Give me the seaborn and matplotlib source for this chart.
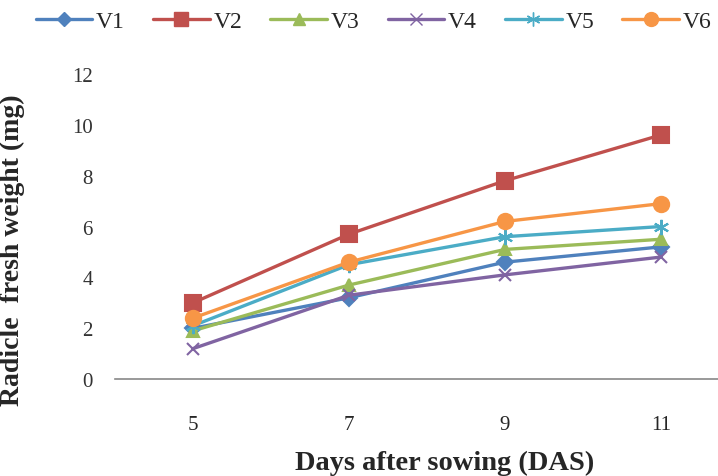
import matplotlib
matplotlib.use("Agg")
import matplotlib.pyplot as plt
import seaborn as sns
import pandas as pd
from matplotlib.lines import Line2D

days = ["5", "7", "9", "11"]
series_names = ["V1", "V2", "V3", "V4", "V5", "V6"]
V1 = [2.0, 3.2, 4.6, 5.2]
V2 = [3.0, 5.7, 7.8, 9.6]
V3 = [1.9, 3.7, 5.1, 5.5]
V4 = [1.2, 3.3, 4.1, 4.8]
V5 = [2.1, 4.5, 5.6, 6.0]
V6 = [2.4, 4.6, 6.2, 6.9]
y_ticks = [0, 2, 4, 6, 8, 10, 12]

colors = ["#4F81BD", "#C0504D", "#9BBB59", "#8064A2", "#4BACC6", "#F79646"]
markers = ["D", "s", "^", "x", (6, 2, 0), "o"]
msizes = [8, 11, 9, 9, 11, 11]

values = [V1, V2, V3, V4, V5, V6]

sns.set_style("white")
plt.rcParams["font.family"] = ["Liberation Serif", "DejaVu Serif"]

fig = plt.figure(figsize=(7.18, 4.77), dpi=100)
ax = fig.add_axes([0.160, 0.203, 0.84, 0.640])

for name, vals, c, m, ms in zip(series_names, values, colors, markers, msizes):
    sub = pd.DataFrame({"pos": list(range(len(days))), "value": vals})
    sns.lineplot(data=sub, x="pos", y="value", color=c, marker=m,
                 markersize=ms, markeredgecolor=c, markerfacecolor=c,
                 markeredgewidth=1.5, linewidth=2.4, ax=ax, legend=False)

ax.set_xlim(-0.5, 3.365)
ax.set_ylim(0, 12)
ax.set_xticks(range(len(days)))
ax.set_xticklabels(days, fontsize=15)
ax.set_xticks([0.5, 1.5, 2.5], minor=True)
ax.tick_params(axis="x", which="major", length=0, pad=26)
ax.tick_params(axis="x", which="minor", length=8, width=1, color="#888888", direction="out")
ax.set_yticks(y_ticks)
ax.set_yticklabels([str(t) for t in y_ticks], fontsize=15, color="#333333")
ax.tick_params(axis="y", length=6, width=1, color="#aaaaaa", pad=10)
for sp in ["top", "right", "left"]:
    ax.spines[sp].set_visible(False)
ax.spines["bottom"].set_color("#888888")
ax.spines["bottom"].set_linewidth(1.2)

ax.set_xlabel("Days after sowing (DAS)", fontsize=20.5, fontweight="bold", va="center")
ax.xaxis.set_label_coords(0.547, -0.272)
ax.set_ylabel("Radicle  fresh weight (mg)", fontsize=20, fontweight="bold")
ax.yaxis.set_label_coords(-0.149, 0.426)

handles = []
for name, c, m, ms in zip(series_names, colors, markers, msizes):
    handles.append(Line2D([], [], color=c, marker=m, markersize=ms - 1,
                          markerfacecolor=c, markeredgecolor=c, linewidth=2.4))
fig.legend(handles=handles, labels=series_names, loc="upper left",
           bbox_to_anchor=(0.02, 1.02), ncol=6, frameon=False, fontsize=17,
           handlelength=2.4, handletextpad=0.15, columnspacing=1.2)

fig.savefig("out.png", dpi=100)
